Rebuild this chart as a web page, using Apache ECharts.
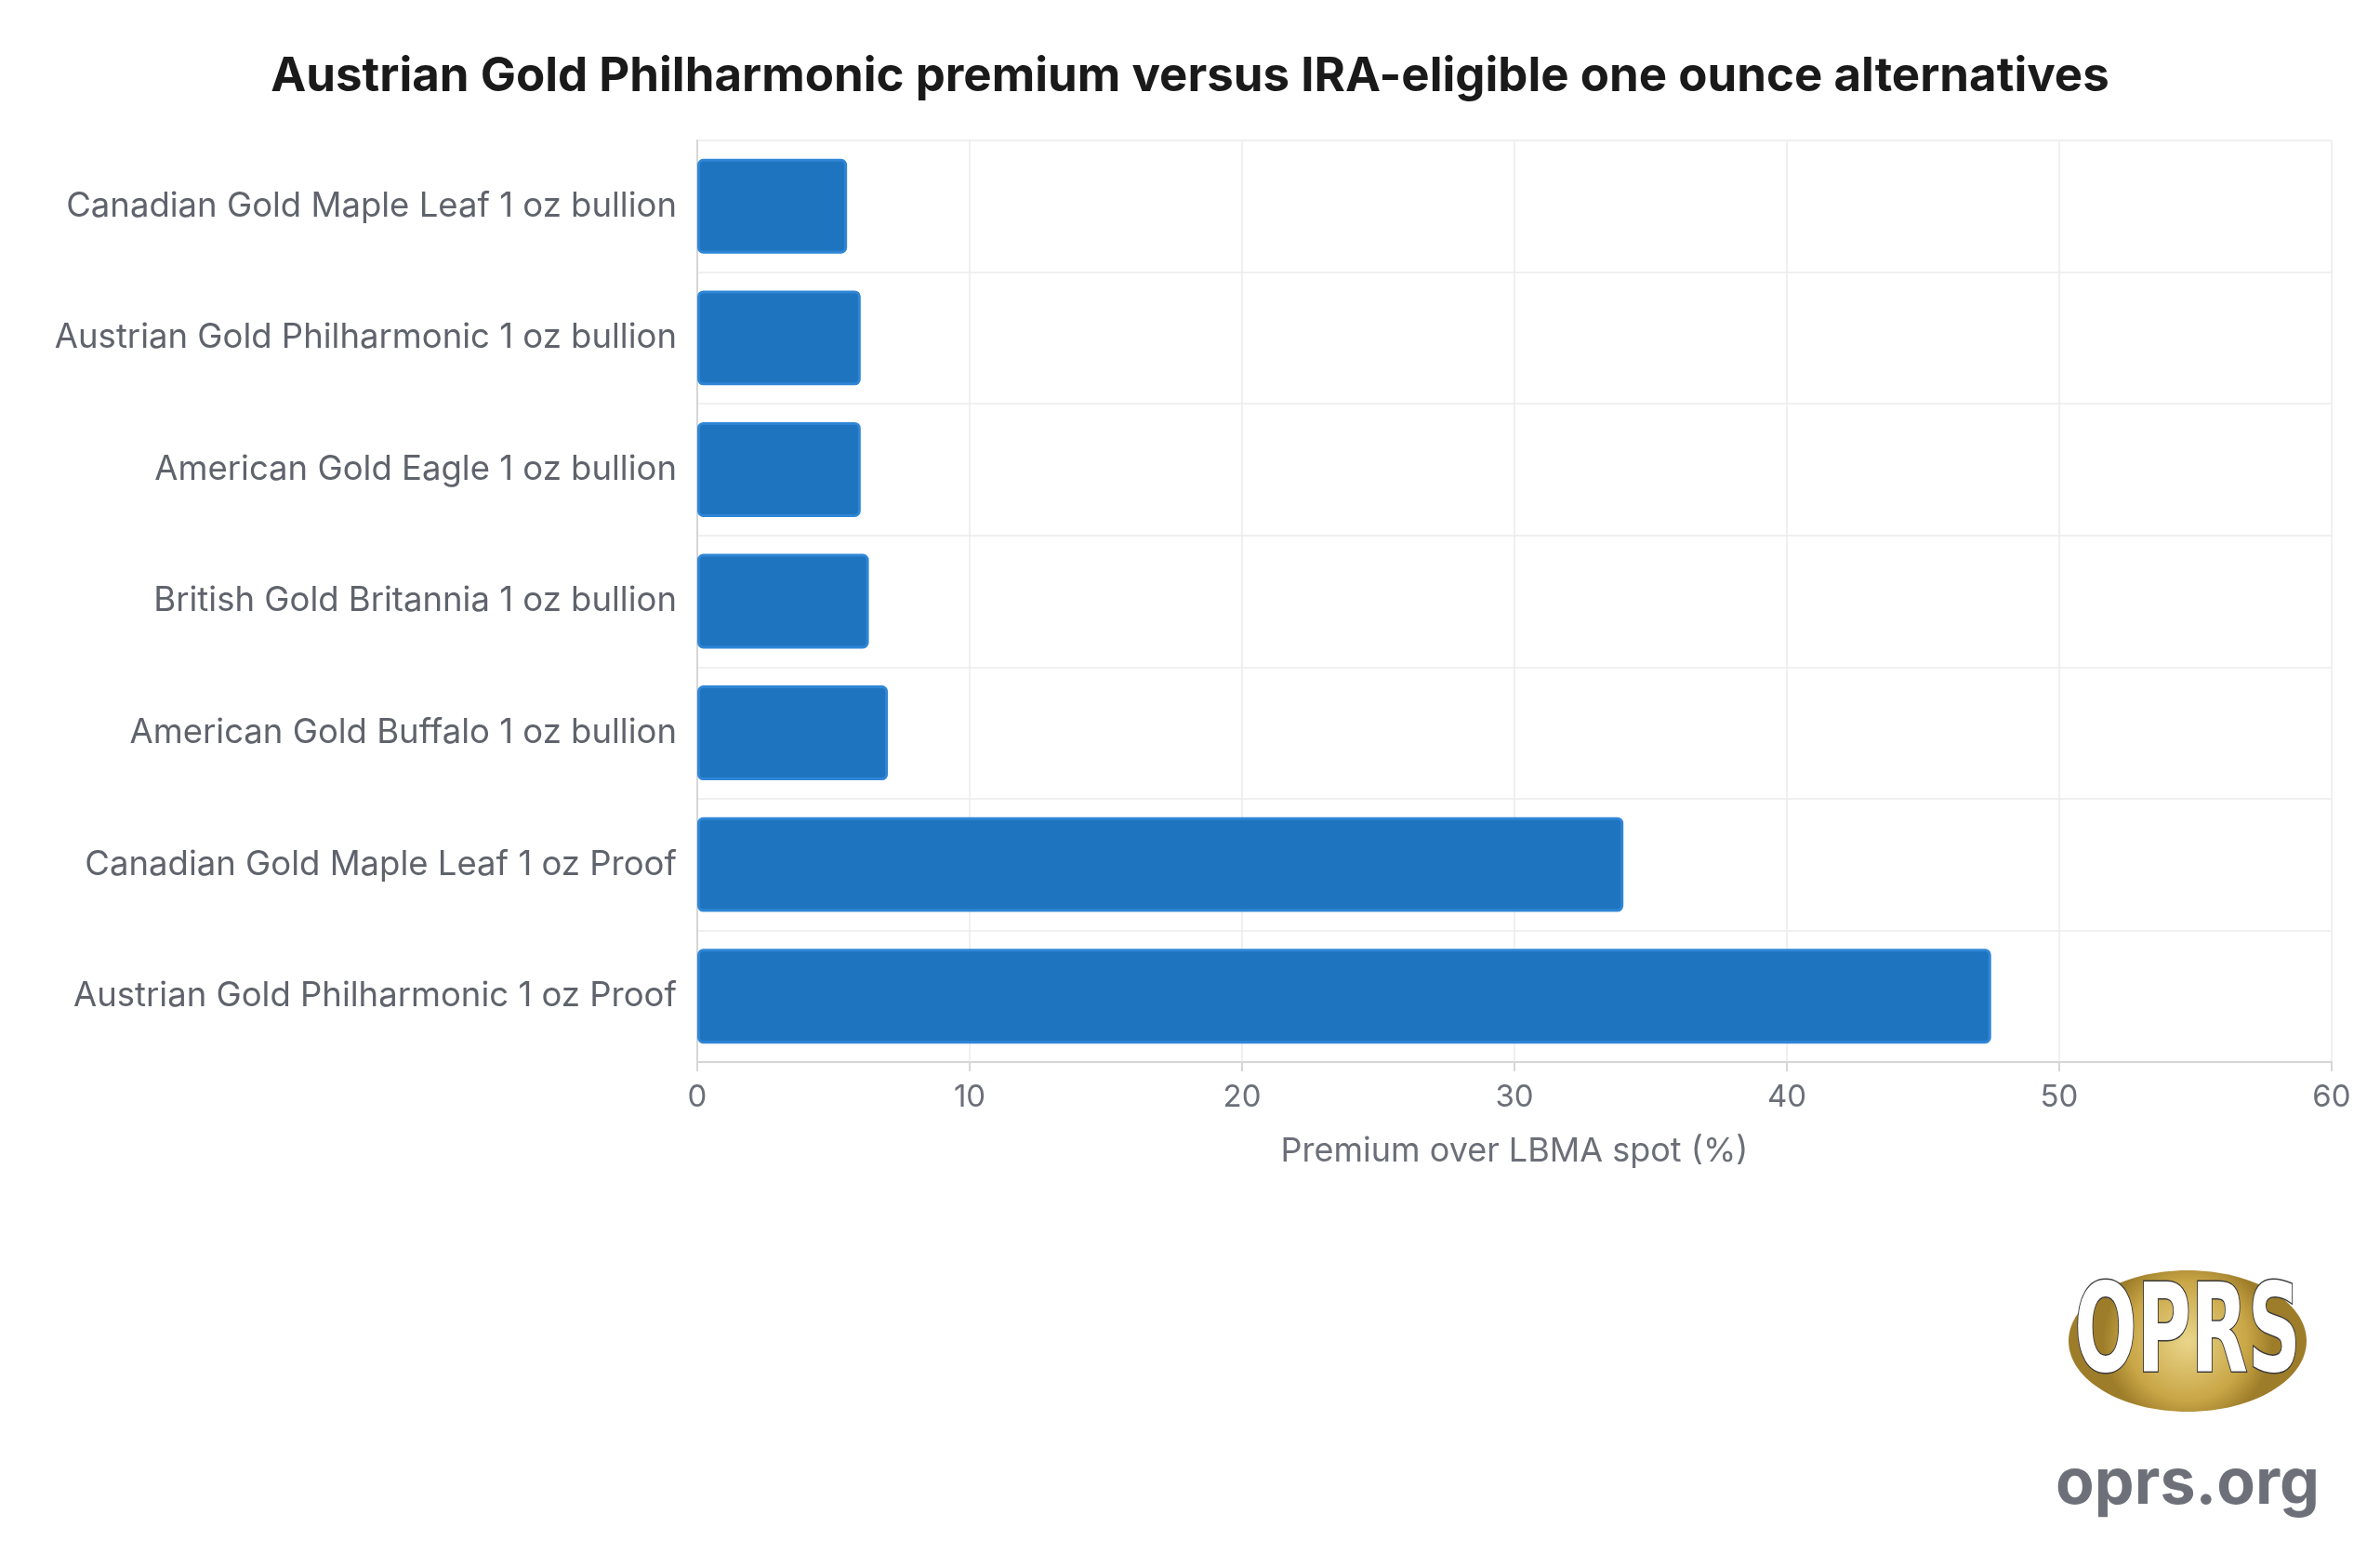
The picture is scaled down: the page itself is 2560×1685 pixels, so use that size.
<!DOCTYPE html>
<html>
<head>
<meta charset="utf-8">
<script src="https://cdn.jsdelivr.net/npm/echarts@6/dist/echarts.min.js"></script>
<style>
  html, body { margin: 0; padding: 0; background: #fff; }
  #chart { width: 2560px; height: 1685px; }
</style>
</head>
<body>
<div id="chart"></div>
<script>
const coins = [
    "Canadian Gold Maple Leaf 1 oz bullion",
    "Austrian Gold Philharmonic 1 oz bullion",
    "American Gold Eagle 1 oz bullion",
    "British Gold Britannia 1 oz bullion",
    "American Gold Buffalo 1 oz bullion",
    "Canadian Gold Maple Leaf 1 oz Proof",
    "Austrian Gold Philharmonic 1 oz Proof"
];
const premiums = [5.5, 6.0, 6.0, 6.3, 7.0, 34.0, 47.5];

const myChart = echarts.init(document.getElementById('chart'));
const font = 'Inter, "Noto Sans", sans-serif';

const option = {
    backgroundColor: '#ffffff',
    textStyle: { fontFamily: font },
    title: {
        text: 'Austrian Gold Philharmonic premium versus IRA-eligible one ounce alternatives',
        left: 'center',
        top: 52,
        textStyle: { fontSize: 51, fontWeight: 'bold', color: '#1a1a1a', fontFamily: font }
    },
    grid: { left: 750, right: 52, top: 151, bottom: 543 },
    xAxis: {
        type: 'value',
        min: 0,
        max: 60,
        interval: 10,
        name: 'Premium over LBMA spot (%)',
        nameLocation: 'middle',
        nameGap: 78,
        nameTextStyle: { fontSize: 36, color: '#6b6f78' },
        axisLabel: { fontSize: 33, color: '#6b6f78', margin: 22 },
        axisLine: { show: true, lineStyle: { color: '#d6d6d6', width: 2 } },
        axisTick: { show: true, length: 10, lineStyle: { color: '#d6d6d6', width: 2 } },
        splitLine: { lineStyle: { color: '#ebebeb', width: 1.5 } }
    },
    yAxis: {
        type: 'category',
        data: coins,
        inverse: true,
        axisLabel: { fontSize: 36.5, color: '#5f636c', margin: 22 },
        axisLine: { show: true, lineStyle: { color: '#d6d6d6', width: 2 } },
        axisTick: { show: false },
        splitLine: { show: true, lineStyle: { color: '#ebebeb', width: 1.5 } }
    },
    series: [{
        type: 'bar',
        data: premiums,
        barWidth: '72%',
        itemStyle: {
            color: '#1f74bf',
            borderColor: '#2f86d6',
            borderWidth: 3,
            borderRadius: 5
        }
    }],
    graphic: [
        {
            type: 'ellipse',
            shape: { cx: 2353, cy: 1442, rx: 128, ry: 76 },
            style: {
                fill: new echarts.graphic.RadialGradient(0.5, 0.5, 0.6, [
                    { offset: 0, color: '#e9d58a' },
                    { offset: 0.7, color: '#c9a646' },
                    { offset: 1, color: '#9e7d2a' }
                ])
            }
        },
        {
            type: 'text',
            x: 2353, y: 1440,
            scaleX: 0.6,
            style: {
                text: 'OPRS',
                align: 'center', verticalAlign: 'middle',
                fontSize: 132, fontWeight: 'bold',
                fontFamily: '"DejaVu Sans", sans-serif',
                fill: '#ffffff', stroke: '#3a3a3a', lineWidth: 3,
                shadowColor: 'rgba(0,0,0,0.6)', shadowBlur: 6, shadowOffsetX: 3, shadowOffsetY: 3
            }
        },
        {
            type: 'text',
            x: 2353, y: 1597,
            style: {
                text: 'oprs.org',
                align: 'center', verticalAlign: 'middle',
                fontSize: 68, fontWeight: 'bold', fontFamily: font,
                fill: '#6e7079'
            }
        }
    ]
};

myChart.setOption(option);
</script>
</body>
</html>
